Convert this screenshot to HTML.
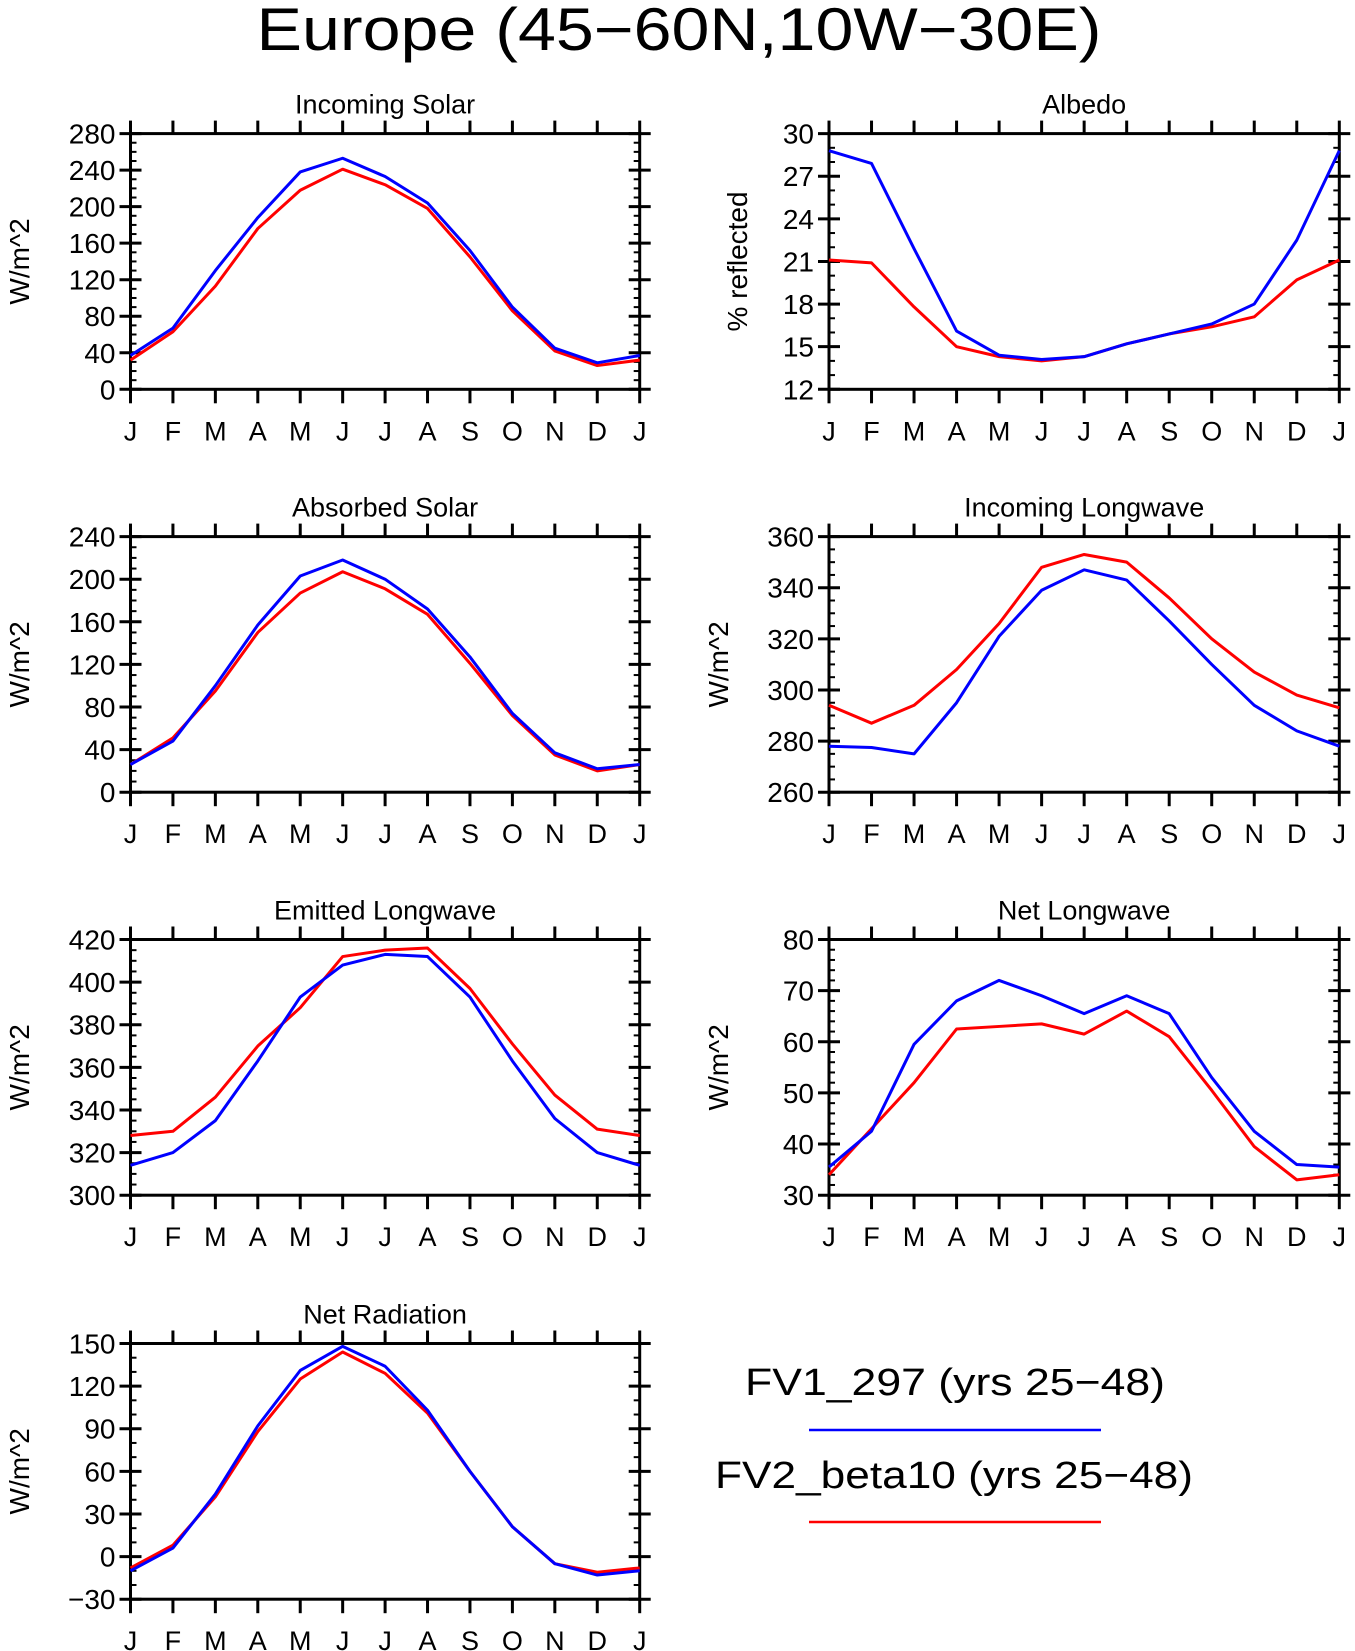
<!DOCTYPE html>
<html><head><meta charset="utf-8"><style>
html,body{margin:0;padding:0;background:#fff;}
svg{display:block;}
text{font-family:"Liberation Sans",sans-serif;fill:#000;}
</style></head><body>
<svg id="fig" width="1355" height="1651" viewBox="0 0 1355 1651" xmlns="http://www.w3.org/2000/svg">
<text x="679" y="50" font-size="60" text-anchor="middle" textLength="845" lengthAdjust="spacingAndGlyphs">Europe (45−60N,10W−30E)</text>
<text x="955" y="1395" font-size="38" text-anchor="middle" textLength="420" lengthAdjust="spacingAndGlyphs">FV1_297 (yrs 25−48)</text>
<line x1="809" y1="1430" x2="1101" y2="1430" stroke="#0000ff" stroke-width="2.5"/>
<text x="954" y="1488" font-size="38" text-anchor="middle" textLength="478" lengthAdjust="spacingAndGlyphs">FV2_beta10 (yrs 25−48)</text>
<line x1="809" y1="1522" x2="1101" y2="1522" stroke="#ff0000" stroke-width="2.5"/>
</svg>
<script>
const months = ["J","F","M","A","M","J","J","A","S","O","N","D","J"];
const titles = ["Incoming Solar","Albedo","Absorbed Solar","Incoming Longwave","Emitted Longwave","Net Longwave","Net Radiation"];
const yLabels = ["W/m^2","% reflected","W/m^2","W/m^2","W/m^2","W/m^2","W/m^2"];
const yMins = [0,12,0,260,300,30,-30];
const yMaxs = [280,30,240,360,420,80,150];
const yMajor = [40,3,40,20,20,10,30];
const yMinor = [10,1,10,5,5,2,10];
const fv1Solar = [37,67,130,188,238,253,233,204,152,90,45,29,37];
const fv2Solar = [32,63,113,176,218,241,224,198,145,86,42,26,32];
const fv1Albedo = [28.8,27.9,21.9,16.1,14.4,14.1,14.3,15.2,15.9,16.6,18.0,22.5,28.8];
const fv2Albedo = [21.1,20.9,17.8,15.0,14.3,14.0,14.3,15.2,15.9,16.4,17.1,19.7,21.1];
const fv1Absorbed = [26,48,100,157,203,218,200,172,127,74,37,22,26];
const fv2Absorbed = [26,51,95,150,187,207,191,167,121,72,35,20,26];
const fv1InLW = [278,277.5,275,295,321,339,347,343,327,310,294,284,278];
const fv2InLW = [294,287,294,308,326,348,353,350,336,320,307,298,293];
const fv1EmLW = [314,320,335,363,393,408,413,412,393,363,336,320,314];
const fv2EmLW = [328,330,346,370,388,412,415,416,397,371,347,331,328];
const fv1NetLW = [35.5,42.5,59.5,68,72,69,65.5,69,65.5,53,42.5,36,35.5];
const fv2NetLW = [34,43,52,62.5,63,63.5,61.5,66,61,50.5,39.5,33,34];
const fv1NetRad = [-10,6,44,92,131,148,134,103,60,21,-5,-13,-10];
const fv2NetRad = [-8,8,42,88,125,144,129,101,60,21,-5,-11,-8];

const fv1All = [fv1Solar,fv1Albedo,fv1Absorbed,fv1InLW,fv1EmLW,fv1NetLW,fv1NetRad];
const fv2All = [fv2Solar,fv2Albedo,fv2Absorbed,fv2InLW,fv2EmLW,fv2NetLW,fv2NetRad];

const NS="http://www.w3.org/2000/svg";
const svg=document.getElementById('fig');
function mk(tag,attrs,parent){const e=document.createElementNS(NS,tag);for(const k in attrs)e.setAttribute(k,attrs[k]);(parent||svg).appendChild(e);return e;}
const colX=[[130.5,639.7],[829,1339.3]];
const rowY=[[133.6,389.3],[536.6,792.2],[939.5,1195.2],[1343.5,1599.2]];
const slug=t=>t.toLowerCase().replace(/ /g,'-');
for(let p=0;p<7;p++){
  const [x0,x1]=colX[p%2],[y0,y1]=rowY[Math.floor(p/2)];
  const g=mk('g',{});
  
  
  const xs=i=>x0+(x1-x0)*i/12;
  const ys=v=>y1-(y1-y0)*(v-yMins[p])/(yMaxs[p]-yMins[p]);
  // ticks
  for(let v=yMins[p];v<=yMaxs[p]+1e-9;v+=yMinor[p]){
    const maj=Math.abs(((v-yMins[p])/yMajor[p])-Math.round((v-yMins[p])/yMajor[p]))<1e-6;
    const y=ys(v);
    if(maj){
      mk('line',{x1:x0-11,y1:y,x2:x0+11,y2:y,stroke:'#000','stroke-width':3},g);
      mk('line',{x1:x1-11,y1:y,x2:x1+11,y2:y,stroke:'#000','stroke-width':3},g);
      const t=mk('text',{x:x0-15,y:y+10,'font-size':28,'text-anchor':'end'},g);
      t.textContent=(v<0?'−':'')+Math.abs(Math.round(v*100)/100);
      
      
    } else {
      mk('line',{x1:x0,y1:y,x2:x0+6,y2:y,stroke:'#000','stroke-width':2},g);
      mk('line',{x1:x1-6,y1:y,x2:x1,y2:y,stroke:'#000','stroke-width':2},g);
    }
  }
  for(let i=0;i<13;i++){
    const x=xs(i);
    mk('line',{x1:x,y1:y0-13,x2:x,y2:y0,stroke:'#000','stroke-width':3},g);
    mk('line',{x1:x,y1:y1,x2:x,y2:y1+14,stroke:'#000','stroke-width':3},g);
    const t=mk('text',{x:x,y:y1+51,'font-size':27,'text-anchor':'middle'},g);
    t.textContent=months[i];
    
    
  }
  mk('rect',{x:x0,y:y0,width:x1-x0,height:y1-y0,fill:'none',stroke:'#000','stroke-width':3},g);
  const series=[[fv1All[p],'#0000ff','fv1-line'],[fv2All[p],'#ff0000','fv2-line']];
  // draw blue first then red? reference red appears under blue mostly
  for(const [d,c,n] of [series[1],series[0]]){
    const pl=mk('polyline',{points:d.map((v,i)=>xs(i)+','+ys(v)).join(' '),fill:'none',stroke:c,'stroke-width':3,'stroke-linejoin':'round'},g);
    
    
  }
  const tt=mk('text',{x:(x0+x1)/2,y:y0-20,'font-size':27,'text-anchor':'middle'},g);
  tt.textContent=titles[p];
  
  
  const lx=(p%2?718:19)+(p===1?19:0), ly=(y0+y1)/2;
  const yl=mk('text',{x:lx,y:ly,'font-size':28,'text-anchor':'middle',transform:`rotate(-90 ${lx} ${ly}) translate(0 10)`},g);
  yl.textContent=yLabels[p];
  
  
}
</script>
</body></html>
